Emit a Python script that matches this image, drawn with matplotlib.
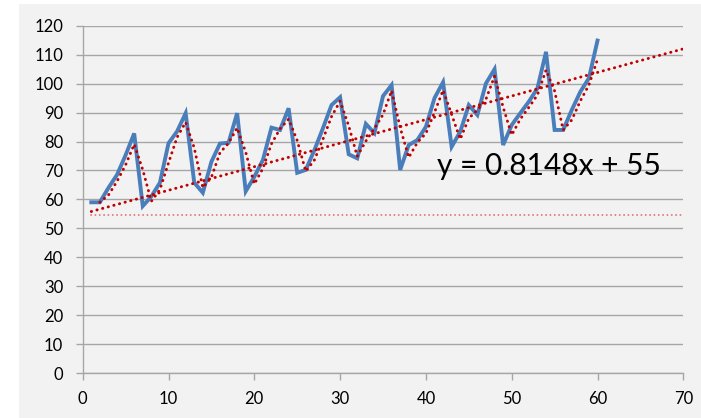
# Excel-style line chart with moving average and linear trend

import matplotlib
matplotlib.use('Agg')
import matplotlib.pyplot as plt
from matplotlib.patches import Rectangle
import numpy as np

# Data
x_values = list(range(1, 61))
y_values = [59, 59, 64, 68.5, 75.3, 82.8, 57.7, 61, 65.8, 79.4,
            83.5, 89.8, 65.8, 62.3, 73, 79.3, 79.6, 89.8, 62.8, 67.8,
            73.6, 84.8, 84, 91.5, 69.2, 70.2, 77, 84.6, 92.6, 95.3,
            75.6, 74.2, 86.1, 82.9, 95.7, 99.5, 70.2, 78.8, 80.5, 85.1,
            95, 100.5, 78.2, 83.4, 92.6, 89.2, 100.1, 105, 78.8, 85.7,
            89.8, 93.8, 98.4, 111, 84, 84, 90.9, 97.2, 101.9, 114.9]
trend_slope = 0.8148
trend_intercept = 55
trend_range = [1, 70]
baseline_value = 54.5
x_ticks = list(range(0, 71, 10))
y_ticks = list(range(0, 121, 10))
equation_label = 'y = 0.8148x + 55'

plt.rcParams['font.family'] = ['Lato', 'DejaVu Sans']

bg = '#f2f2f2'
grid_color = '#a6a6a6'
blue = '#4a7ebb'
dark_red = '#c00000'
light_red = '#e0707a'

fig = plt.figure(figsize=(7.01, 4.18), dpi=100, facecolor='white')
fig.patches.append(Rectangle((19 / 701, 0), 1, 414 / 418, transform=fig.transFigure,
                             facecolor=bg, edgecolor='none', zorder=-10))
ax = fig.add_axes([82.7 / 701, 45 / 418, (683.3 - 82.7) / 701, (373 - 25.8) / 418])
ax.set_facecolor(bg)

# series and overlays
xs = np.array(x_values)
ys = np.array(y_values)
ax.plot(xs, ys, color=blue, lw=2.8, solid_joinstyle='miter', zorder=3)

dotted = (0, (0.1, 1.9))
moving_avg = (ys[1:] + ys[:-1]) / 2
ax.plot(xs[1:], moving_avg, color=dark_red, lw=2.1, linestyle=dotted,
        dash_capstyle='round', zorder=4)

tx = np.array(trend_range)
ax.plot(tx, trend_slope * tx + trend_intercept, color=dark_red, lw=2.1,
        linestyle=dotted, dash_capstyle='round', zorder=4)

ax.plot(tx, [baseline_value, baseline_value], color=light_red, lw=1.3,
        linestyle=(0, (0.1, 2.3)), dash_capstyle='round', zorder=2)

ax.text(41.3, 68.4, equation_label, fontsize=21.5, va='baseline', ha='left', zorder=5)

# axes styling
ax.set_xlim(0, 70)
ax.set_ylim(0, 120)
ax.set_xticks(x_ticks)
ax.set_yticks(y_ticks)
ax.grid(axis='y', color=grid_color, lw=1.0, zorder=1)
ax.set_axisbelow(True)
for side in ['top', 'right']:
    ax.spines[side].set_visible(False)
for side in ['left', 'bottom']:
    ax.spines[side].set_color(grid_color)
    ax.spines[side].set_linewidth(1.0)
ax.tick_params(axis='both', colors=grid_color, labelcolor='black', labelsize=12,
               length=5, width=1.0)
ax.tick_params(axis='y', pad=9)
ax.tick_params(axis='x', pad=8)

fig.savefig('out.png', dpi=100, facecolor=fig.get_facecolor())
